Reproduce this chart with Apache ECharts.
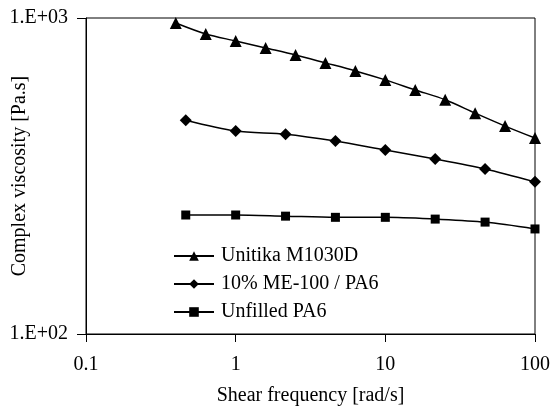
<!DOCTYPE html>
<html>
<head>
<meta charset="utf-8">
<script src="https://cdn.jsdelivr.net/npm/echarts@6/dist/echarts.min.js"></script>
<style>
  html, body { margin: 0; padding: 0; background: #fff; }
  #chart { width: 552px; height: 408px; }
</style>
</head>
<body>
<div id="chart"></div>
<script>
// shear frequency [rad/s] and complex viscosity [Pa.s]
const unitikaX = [0.398, 0.631, 1, 1.585, 2.512, 3.981, 6.31, 10, 15.85, 25.12, 39.81, 63.1, 100];
const unitikaY = [964, 890, 846, 804, 764, 721, 680, 637, 592, 551, 500, 455, 417];
const me100X = [0.464, 1, 2.154, 4.64, 10, 21.54, 46.4, 100];
const me100Y = [475, 439, 429, 408, 382, 358, 333, 303];
const pa6X = [0.464, 1, 2.154, 4.64, 10, 21.54, 46.4, 100];
const pa6Y = [238, 238, 236, 234, 234, 231, 226, 215];
const seriesNames = ['Unitika M1030D', '10% ME-100 / PA6', 'Unfilled PA6'];

const font = 'Liberation Serif';
const fs = 20;
const zip = (xs, ys) => xs.map((x, i) => [x, ys[i]]);

let myChart = echarts.init(document.getElementById('chart'));
var option = {
    backgroundColor: '#fff',
    animation: false,
    textStyle: { fontFamily: font, color: '#000', fontSize: fs },
    grid: {
        left: 86, right: 17, top: 18, bottom: 74,
        outerBoundsMode: 'none',
        show: true, borderColor: '#000', borderWidth: 1
    },
    legend: {
        orient: 'vertical',
        left: 173,
        top: 246,
        padding: 0,
        itemWidth: 40,
        itemHeight: 12,
        itemGap: 8,
        data: seriesNames,
        textStyle: { fontFamily: font, fontSize: fs, color: '#000', padding: [0, 0, 0, 2] }
    },
    xAxis: {
        type: 'log',
        logBase: 10,
        min: 0.1,
        max: 100,
        name: 'Shear frequency [rad/s]',
        nameLocation: 'middle',
        nameGap: 52,
        nameMoveOverlap: false,
        nameTextStyle: { fontFamily: font, fontSize: fs, color: '#000' },
        axisLine: { lineStyle: { color: '#000', width: 1 } },
        axisTick: { show: true, length: 8, lineStyle: { color: '#000' } },
        minorTick: { show: false },
        splitLine: { show: false },
        axisLabel: {
            margin: 21,
            fontFamily: font, fontSize: fs, color: '#000',
            formatter: function (v) { return String(Math.round(v * 10) / 10); }
        }
    },
    yAxis: {
        type: 'log',
        logBase: 10,
        min: 100,
        max: 1000,
        name: 'Complex viscosity [Pa.s]',
        nameLocation: 'middle',
        nameGap: 56,
        nameMoveOverlap: false,
        nameTextStyle: { fontFamily: font, fontSize: fs, color: '#000' },
        axisLine: { lineStyle: { color: '#000', width: 1 } },
        axisTick: { show: true, length: 9, lineStyle: { color: '#000' } },
        minorTick: { show: false },
        splitLine: { show: false },
        axisLabel: {
            margin: 18,
            fontFamily: font, fontSize: fs, color: '#000',
            formatter: function (v) {
                const e = Math.round(Math.log10(v));
                return '1.E+' + (e < 10 ? '0' + e : e);
            }
        }
    },
    series: [
        {
            name: seriesNames[0],
            type: 'line',
            smooth: 0.3,
            symbol: 'triangle',
            symbolSize: 12,
            color: '#000',
            lineStyle: { color: '#000', width: 1.5 },
            data: zip(unitikaX, unitikaY)
        },
        {
            name: seriesNames[1],
            type: 'line',
            smooth: 0.3,
            symbol: 'diamond',
            symbolSize: 12,
            color: '#000',
            lineStyle: { color: '#000', width: 1.5 },
            data: zip(me100X, me100Y)
        },
        {
            name: seriesNames[2],
            type: 'line',
            smooth: 0.3,
            symbol: 'rect',
            symbolSize: 9,
            color: '#000',
            lineStyle: { color: '#000', width: 1.5 },
            data: zip(pa6X, pa6Y)
        }
    ]
};

myChart.setOption(option);
</script>
</body>
</html>
